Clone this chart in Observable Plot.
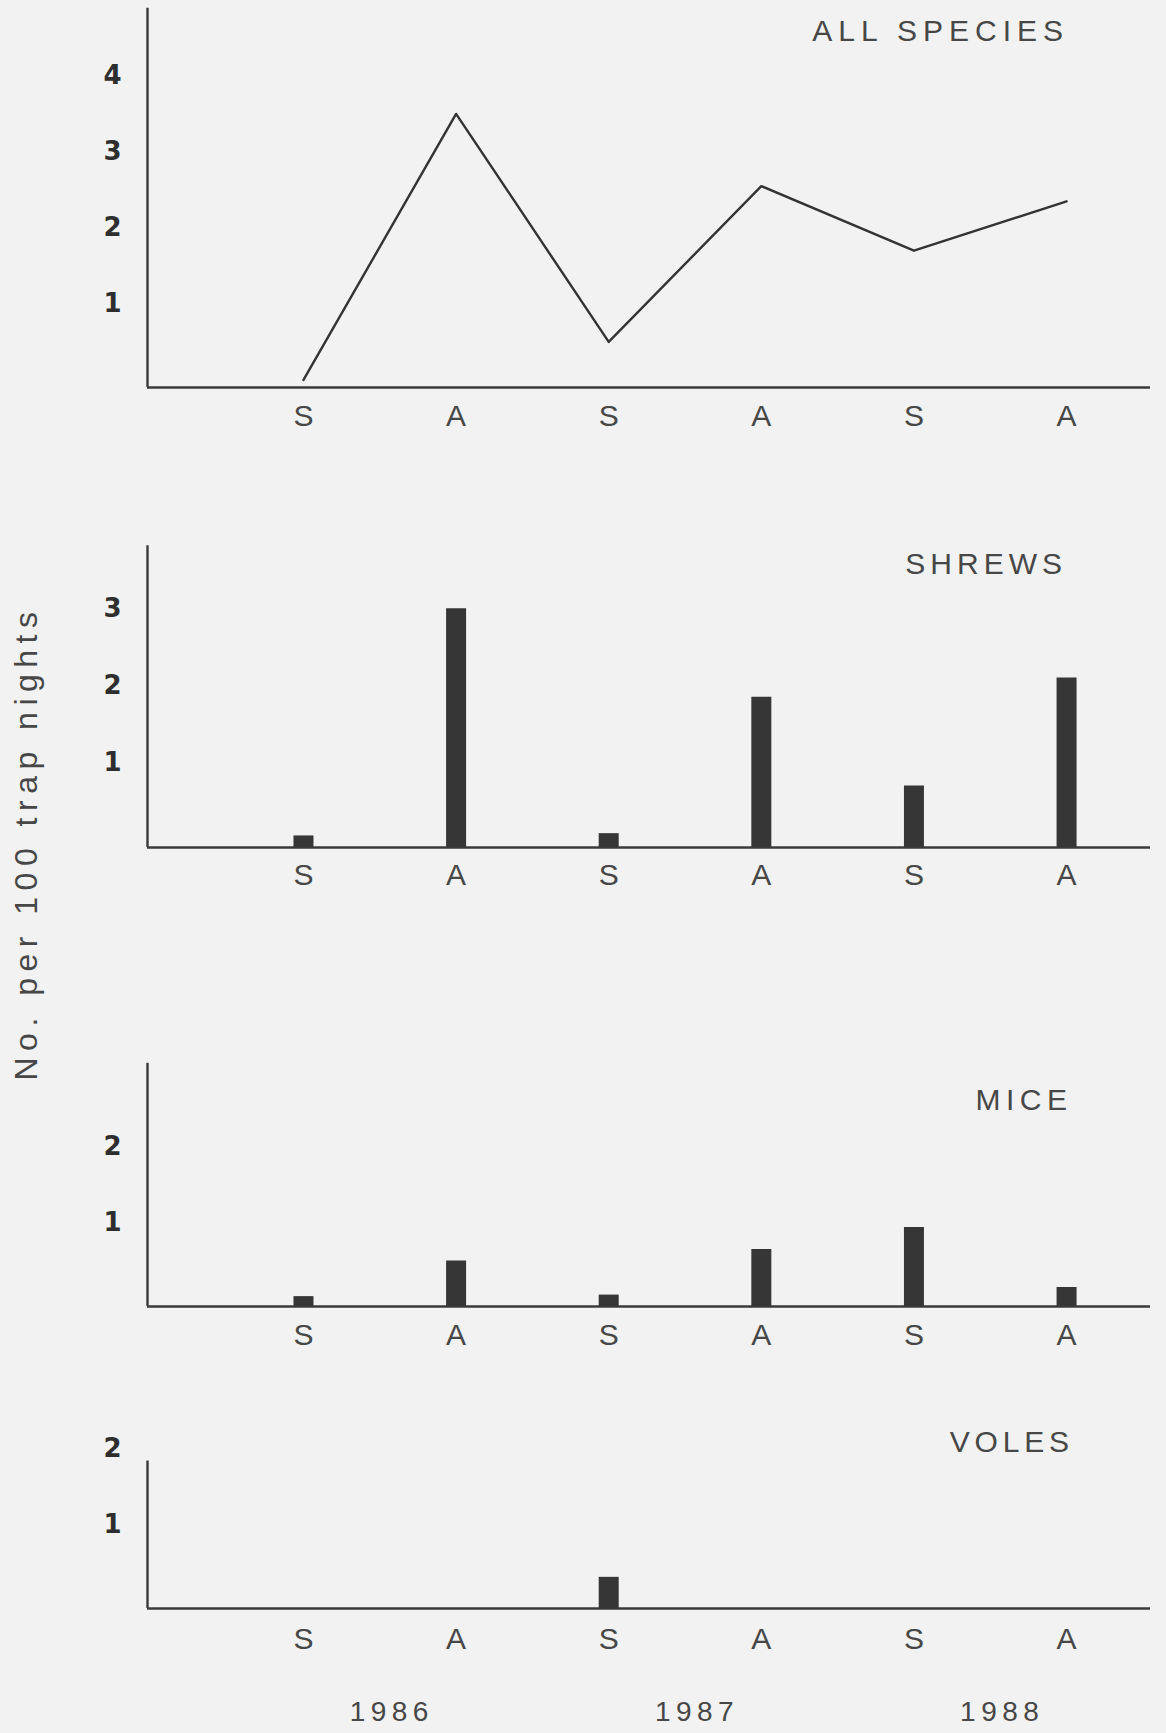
<!DOCTYPE html>
<html>
<head>
<meta charset="utf-8">
<script src="https://cdn.jsdelivr.net/npm/d3@7"></script>
<script src="https://cdn.jsdelivr.net/npm/@observablehq/plot@0.6"></script>
<style>
  html, body { margin: 0; padding: 0; background: #f2f2f2; overflow: hidden; }
  #figure { position: relative; width: 1166px; height: 1733px; font-family: "Liberation Sans", Arial, Helvetica, sans-serif; color: #474747; }
  #figure svg { position: absolute; left: 0; }
  .title { position: absolute; font-size: 30px; line-height: 30px; white-space: nowrap; }
  .ylabel { position: absolute; width: 700px; height: 40px; line-height: 40px; font-size: 32px; letter-spacing: 6.5px; text-align: center; white-space: nowrap; transform: rotate(-90deg); }
</style>
</head>
<body>
<div id="figure"></div>
<script>
// Sampling periods: summer (S) and autumn (A) of each year
const seasons = ["S", "A", "S", "A", "S", "A"];
const years = ["1986", "1987", "1988"];

// Captures, number per 100 trap nights
const allSpecies = [0.0, 3.5, 0.5, 2.55, 1.7, 2.35];
const shrews = [0.05, 3.0, 0.08, 1.85, 0.7, 2.1];
const mice = [0.03, 0.5, 0.05, 0.65, 0.94, 0.15];
const voles = [0, 0, 0.31, 0, 0, 0];

// Value axis ticks of each panel
const ticksAll = [1, 2, 3, 4];
const ticksShrews = [1, 2, 3];
const ticksMice = [1, 2];
const ticksVoles = [1, 2];

const yAxisTitle = "No. per 100 trap nights";

// Layout: the value axis floor sits a little under zero, as in the printed figure
const yFloor = -0.1;
const xDomain = [-1.022, 5.55];
const ink = "#3a3a3a";

const panels = [
  {title: "ALL SPECIES", values: allSpecies, ticks: ticksAll, kind: "line",
   top: 0, height: 440, floor: 387, unit: 76, axisTop: 4.89, yMax: 4.89, pad: 17,
   titleY: 31, titleRight: 1063, spacing: 6},
  {title: "SHREWS", values: shrews, ticks: ticksShrews, kind: "bar",
   top: 460, height: 440, floor: 847, unit: 77, axisTop: 3.82, yMax: 3.82, pad: 16,
   titleY: 564, titleRight: 1062, spacing: 5},
  {title: "MICE", values: mice, ticks: ticksMice, kind: "bar",
   top: 930, height: 430, floor: 1306, unit: 76, axisTop: 3.1, yMax: 3.1, pad: 17,
   titleY: 1100, titleRight: 1067, spacing: 5.5},
  {title: "VOLES", values: voles, ticks: ticksVoles, kind: "bar",
   top: 1380, height: 353, floor: 1608, unit: 76, axisTop: 1.84, yMax: 2.2, pad: 19,
   titleY: 1442, titleRight: 1069, spacing: 4.8, years: true}
];

const figure = document.getElementById("figure");

for (const p of panels) {
  const rows = seasons.map((season, i) => ({i, season, value: p.values[i]}));
  const marginBottom = p.top + p.height - p.floor;
  const marginTop = p.floor - p.top - (p.yMax - yFloor) * p.unit;

  const marks = [
    // axis lines
    Plot.ruleY([yFloor], {stroke: ink, strokeWidth: 2.4}),
    Plot.ruleX([xDomain[0]], {y1: yFloor, y2: p.axisTop, stroke: ink, strokeWidth: 2.4}),
    Plot.axisX({
      ticks: d3.range(seasons.length),
      tickFormat: (i) => seasons[i],
      tickSize: 0, tickPadding: p.pad,
      fontSize: 30, fill: "#474747", label: null
    }),
    Plot.axisY({
      ticks: p.ticks, tickFormat: d3.format("d"),
      tickSize: 0, tickPadding: 26,
      fontSize: 26, fontWeight: "bold", fontFamily: "'DejaVu Sans', sans-serif",
      fill: "#2e2e2e", label: null
    })
  ];

  if (p.kind === "line") {
    marks.push(Plot.line(rows, {x: "i", y: "value", stroke: "#333", strokeWidth: 2.4}));
  } else {
    marks.push(Plot.ruleX(rows.filter((d) => d.value > 0),
      {x: "i", y1: yFloor, y2: "value", stroke: "#363636", strokeWidth: 20}));
  }

  if (p.years) {
    marks.push(Plot.text(years, {
      x: (d, k) => 2 * k + 0.5, text: (d) => d,
      frameAnchor: "bottom", lineAnchor: "middle", dy: 104, dx: 12,
      fontSize: 28, fill: "#474747"
    }));
  }

  const svg = Plot.plot({
    width: 1166,
    height: p.height,
    marginLeft: 147,
    marginRight: 16,
    marginTop,
    marginBottom,
    x: {domain: xDomain},
    y: {domain: [yFloor, p.yMax]},
    style: {background: "none", fontFamily: "'Liberation Sans', Arial, Helvetica, sans-serif", overflow: "visible"},
    marks
  });
  svg.style.top = p.top + "px";
  d3.select(svg).selectAll('g[aria-label="text"] text').style("letter-spacing", "5.5px");
  figure.appendChild(svg);

  const t = document.createElement("div");
  t.className = "title";
  t.textContent = p.title;
  t.style.letterSpacing = p.spacing + "px";
  t.style.right = (1166 - p.titleRight - p.spacing) + "px";
  t.style.top = (p.titleY - 14.6) + "px";
  figure.appendChild(t);
}

// Shared value-axis title, rotated along the left edge
const yl = document.createElement("div");
yl.className = "ylabel";
yl.textContent = yAxisTitle;
yl.style.left = (26 - 350) + "px";
yl.style.top = (843 - 20) + "px";
figure.appendChild(yl);
</script>
</body>
</html>
